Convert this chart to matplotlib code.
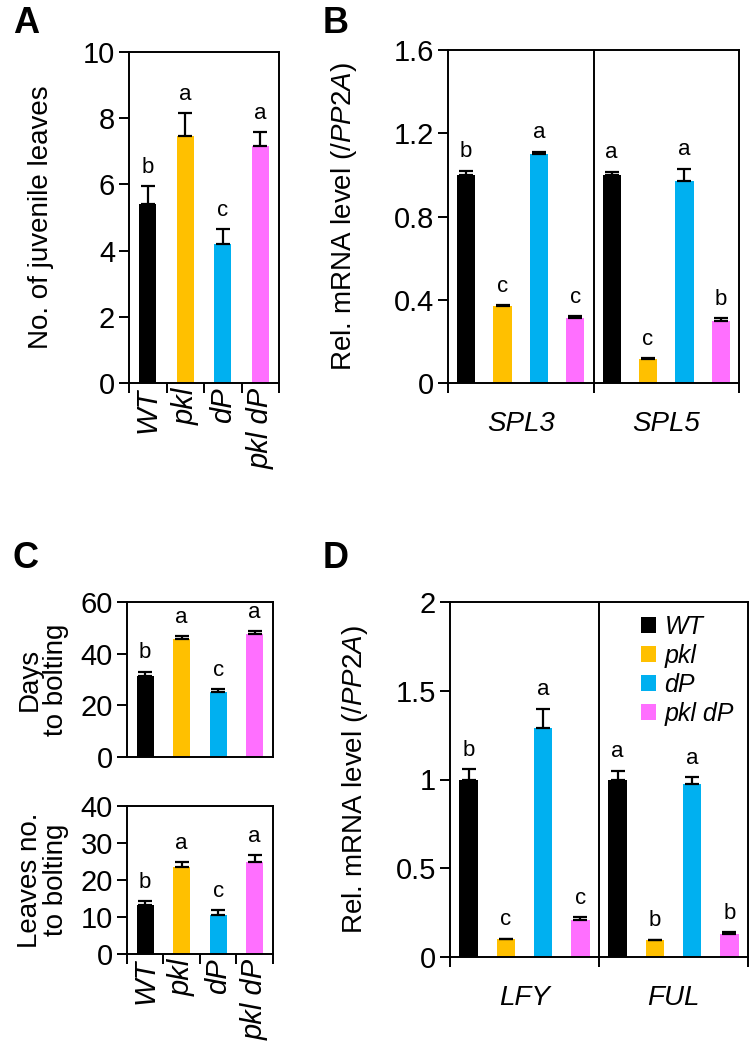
import matplotlib
matplotlib.use('Agg')
import matplotlib.pyplot as plt
from matplotlib.patches import Patch
import numpy as np

plt.rcParams['font.family'] = ['Liberation Sans', 'DejaVu Sans']
plt.rcParams['mathtext.fontset'] = 'custom'
plt.rcParams['mathtext.rm'] = 'Liberation Sans'
plt.rcParams['mathtext.it'] = 'Liberation Sans:italic'

genotypes = ['WT', 'pkl', 'dP', 'pkl dP']
colors = ['#000000', '#FFC000', '#00B0F0', '#FF6FFF']

# panel A
juv_mean = [5.4, 7.45, 4.2, 7.15]
juv_err = [0.55, 0.7, 0.45, 0.42]
juv_sig = ['b', 'a', 'c', 'a']

# panel B
spl_genes = ['SPL3', 'SPL5']
spl_mean = [1.0, 0.37, 1.10, 0.31, 1.0, 0.115, 0.97, 0.30]
spl_err = [0.02, 0.005, 0.012, 0.01, 0.015, 0.005, 0.06, 0.01]
spl_sig = ['b', 'c', 'a', 'c', 'a', 'c', 'a', 'b']

# panel C
days_mean = [31.5, 45.5, 25.0, 47.5]
days_err = [1.5, 1.2, 1.2, 1.2]
days_sig = ['b', 'a', 'c', 'a']
lvs_mean = [13.3, 23.6, 10.5, 25.0]
lvs_err = [1.0, 1.2, 1.3, 1.7]
lvs_sig = ['b', 'a', 'c', 'a']

# panel D
flw_genes = ['LFY', 'FUL']
flw_mean = [1.0, 0.10, 1.29, 0.21, 1.0, 0.095, 0.975, 0.13]
flw_err = [0.06, 0.003, 0.11, 0.015, 0.05, 0.003, 0.04, 0.01]
flw_sig = ['b', 'c', 'a', 'c', 'a', 'b', 'a', 'b']

W, H = 752, 1060
TICK_FS = 21
LAB_FS = 20
fig = plt.figure(figsize=(W / 100, H / 100), dpi=100)


def add_ax(x0, y0, x1, y1):
    return fig.add_axes([x0 / W, 1 - y1 / H, (x1 - x0) / W, (y1 - y0) / H])


def style(ax):
    for s in ax.spines.values():
        s.set_linewidth(1.4)
    ax.tick_params(axis='both', direction='out', width=1.4, length=7, labelsize=TICK_FS, pad=3)


def bars(ax, x, mean, err, sig, col, width=0.46):
    ax.bar(x, mean, width=width, color=col, zorder=2)
    ax.errorbar(x, mean, yerr=[np.zeros(len(mean)), err], fmt='none', ecolor='black',
                elinewidth=1.6, capsize=5, capthick=1.6, zorder=3)
    for xi, m, e, s in zip(x, mean, err, sig):
        ax.annotate(s, (xi, m + e), xytext=(0, 6), textcoords='offset points',
                    ha='center', va='bottom', fontsize=16)


def geno_xaxis(ax, show_labels=True):
    ax.set_xlim(-0.5, 3.5)
    ax.set_xticks(np.arange(-0.5, 4, 1))
    ax.set_xticklabels([])
    ax.set_xticks(np.arange(4), minor=True)
    ax.tick_params(axis='x', which='minor', length=0, labelsize=TICK_FS)
    if show_labels:
        ax.set_xticklabels(genotypes, minor=True, rotation=90, style='italic')


def gene_xaxis(ax, genes):
    ax.axvline(3.5, color='black', lw=1.4)
    ax.set_xlim(-0.5, 7.5)
    ax.set_xticks([-0.5, 3.5, 7.5])
    ax.set_xticklabels([])
    ax.set_xticks([1.5, 5.5], minor=True)
    ax.set_xticklabels(genes, minor=True, style='italic', fontsize=LAB_FS)
    ax.tick_params(axis='x', which='minor', length=0, pad=20)


# A
axA = add_ax(129, 52, 279, 383)
style(axA)
x4 = np.arange(4)
bars(axA, x4, juv_mean, juv_err, juv_sig, colors)
axA.set_ylim(0, 10)
axA.set_yticks([0, 2, 4, 6, 8, 10])
geno_xaxis(axA)
axA.set_ylabel('No. of juvenile leaves', fontsize=LAB_FS)
axA.yaxis.set_label_coords(-0.5, 0.5)

# B
axB = add_ax(448, 50, 739, 383)
style(axB)
x8 = np.arange(8)
bars(axB, x8, spl_mean, spl_err, spl_sig, colors * 2, width=0.5)
axB.set_ylim(0, 1.6)
axB.set_yticks([0, 0.4, 0.8, 1.2, 1.6])
axB.set_yticklabels(['0', '0.4', '0.8', '1.2', '1.6'])
gene_xaxis(axB, spl_genes)
axB.set_ylabel('Rel. mRNA level (/$PP2A$)', fontsize=LAB_FS)
axB.yaxis.set_label_coords(-0.305, 0.5)

# C top
axC1 = add_ax(127, 602, 273, 757)
style(axC1)
bars(axC1, x4, days_mean, days_err, days_sig, colors)
axC1.set_ylim(0, 60)
axC1.set_yticks([0, 20, 40, 60])
geno_xaxis(axC1, show_labels=False)
axC1.tick_params(axis='x', which='major', length=0)
axC1.set_ylabel('Days\nto bolting', fontsize=LAB_FS, linespacing=1.0)
axC1.yaxis.set_label_coords(-0.4, 0.5)

# C bottom
axC2 = add_ax(127, 806, 273, 954)
style(axC2)
bars(axC2, x4, lvs_mean, lvs_err, lvs_sig, colors)
axC2.set_ylim(0, 40)
axC2.set_yticks([0, 10, 20, 30, 40])
geno_xaxis(axC2)
axC2.set_ylabel('Leaves no.\nto bolting', fontsize=LAB_FS, linespacing=1.0)
axC2.yaxis.set_label_coords(-0.4, 0.5)

# D
axD = add_ax(450, 602, 748, 957)
style(axD)
bars(axD, x8, flw_mean, flw_err, flw_sig, colors * 2, width=0.5)
axD.set_ylim(0, 2)
axD.set_yticks([0, 0.5, 1, 1.5, 2])
axD.set_yticklabels(['0', '0.5', '1', '1.5', '2'])
gene_xaxis(axD, flw_genes)
axD.set_ylabel('Rel. mRNA level (/$PP2A$)', fontsize=LAB_FS)
axD.yaxis.set_label_coords(-0.27, 0.5)
handles = [Patch(facecolor=c, edgecolor='none') for c in colors]
leg = axD.legend(handles, genotypes, loc='upper right', bbox_to_anchor=(0.995, 1.0),
                 frameon=False, fontsize=18, handlelength=0.6, handleheight=0.6,
                 handletextpad=0.35, labelspacing=0.2, borderaxespad=0.1)
for t in leg.get_texts():
    t.set_style('italic')

# panel letters
for lab, px, py in [('A', 13, 6), ('B', 323, 6), ('C', 13, 541), ('D', 323, 541)]:
    fig.text(px / W, 1 - py / H, lab, fontsize=26, fontweight='bold', va='top', ha='left')

fig.savefig('out.png', dpi=100)
